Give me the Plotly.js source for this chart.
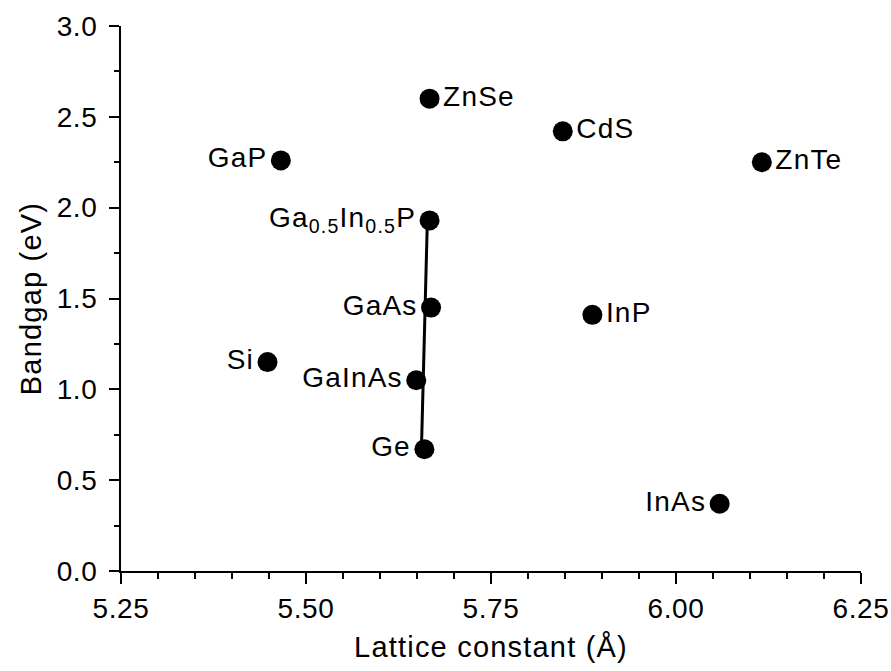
<!DOCTYPE html>
<html>
<head>
<meta charset="utf-8">
<script src="https://cdn.plot.ly/plotly-3.0.1.min.js"></script>
<style>
html,body{margin:0;padding:0;background:#fff;}
#chart{width:891px;height:671px;}
#chart svg text{letter-spacing:1.2px;}
#chart svg .xtick text, #chart svg .ytick text{letter-spacing:0.6px;}
</style>
</head>
<body>
<div id="chart"></div>
<script>
// Data
const materials = ["ZnSe", "CdS", "ZnTe", "GaP", "Ga<sub>0.5</sub>In<sub>0.5</sub>P", "GaAs", "InP", "Si", "GaInAs", "Ge", "InAs"];
const latticeConstant = [5.667, 5.847, 6.116, 5.466, 5.667, 5.669, 5.887, 5.448, 5.649, 5.660, 6.059];
const bandgap = [2.60, 2.42, 2.25, 2.26, 1.93, 1.45, 1.41, 1.15, 1.05, 0.67, 0.37];
const labelSide = ["middle right", "middle right", "middle right", "middle left", "middle left", "middle left", "middle right", "middle left", "middle left", "middle left", "middle left"];

// Connecting line (Ga0.5In0.5P to Ge)
const lineX = [5.664, 5.656];
const lineY = [1.93, 0.67];

const xTicks = [5.25, 5.50, 5.75, 6.00, 6.25];
const xTickText = ["5.25", "5.50", "5.75", "6.00", "6.25"];
const yTicks = [0, 0.5, 1.0, 1.5, 2.0, 2.5, 3.0];
const yTickText = ["0.0", "0.5", "1.0", "1.5", "2.0", "2.5", "3.0"];

const font = "Liberation Sans, Arial, Helvetica, sans-serif";

const traces = [
  {
    x: lineX, y: lineY, mode: "lines", type: "scatter",
    line: {color: "#000", width: 3}, hoverinfo: "skip", showlegend: false
  },
  {
    x: latticeConstant, y: bandgap, mode: "markers+text", type: "scatter",
    text: materials, textposition: labelSide,
    textfont: {family: font, size: 28, color: "#000"},
    marker: {color: "#000", size: 20, line: {width: 0}},
    showlegend: false
  }
];

const axisCommon = {
  showline: true, linecolor: "#000", linewidth: 2,
  showgrid: false, zeroline: false, mirror: false,
  ticks: "outside", ticklen: 11, tickwidth: 2, tickcolor: "#000",
  tickfont: {family: font, size: 28, color: "#000"},
  tickmode: "array"
};

const layout = {
  width: 891, height: 671,
  margin: {l: 121, r: 30, t: 26, b: 100},
  paper_bgcolor: "#fff", plot_bgcolor: "#fff",
  showlegend: false,
  xaxis: Object.assign({}, axisCommon, {
    range: [5.25, 6.25], tickvals: xTicks, ticktext: xTickText,
    ticklabelstandoff: 0,
    minor: {dtick: 0.05, tick0: 5.25, ticks: "outside", ticklen: 6, tickwidth: 2, tickcolor: "#000", showgrid: false},
    title: {text: "Lattice constant (Å)", font: {family: font, size: 29, color: "#000"}, standoff: 14}
  }),
  yaxis: Object.assign({}, axisCommon, {
    range: [0, 3.0], tickvals: yTicks, ticktext: yTickText,
    ticklen: 10, ticklabelstandoff: 6,
    minor: {dtick: 0.25, tick0: 0, ticks: "outside", ticklen: 5, tickwidth: 2, tickcolor: "#000", showgrid: false},
    title: {text: "Bandgap (eV)", font: {family: font, size: 29, color: "#000"}, standoff: 8}
  })
};

Plotly.newPlot("chart", traces, layout, {displayModeBar: false, staticPlot: true});
</script>
</body>
</html>
